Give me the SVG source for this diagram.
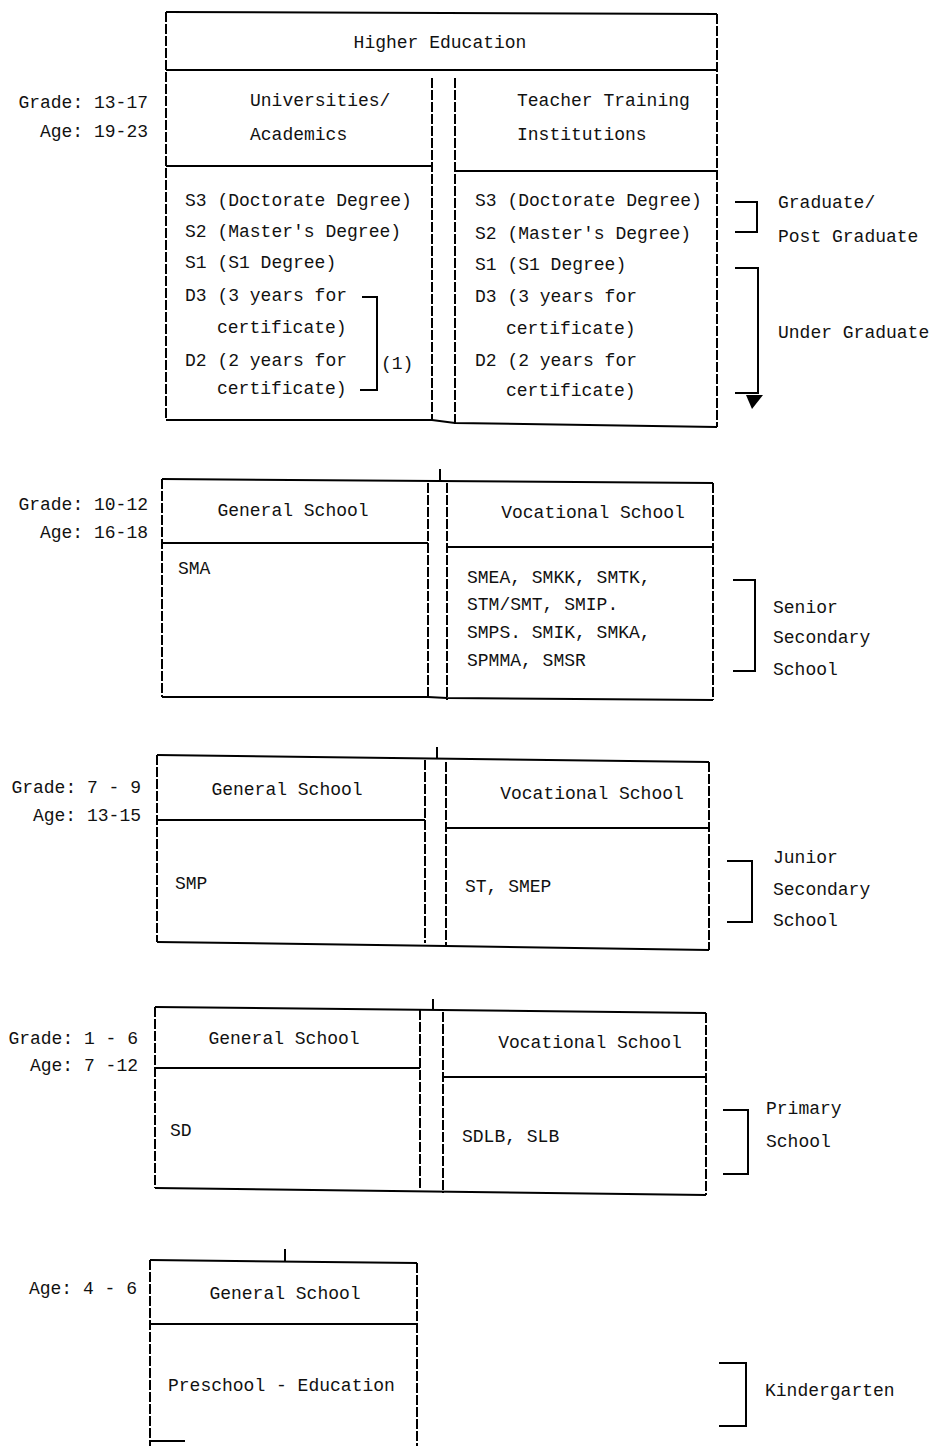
<svg xmlns="http://www.w3.org/2000/svg" width="935" height="1446" viewBox="0 0 935 1446">
<style>
.ln{stroke:#000;stroke-width:2;fill:none}
.dv{stroke:#000;stroke-width:2;fill:none;stroke-dasharray:10 2}
text{font-family:"Liberation Mono","DejaVu Sans Mono",monospace;font-size:18px;fill:#111}
.c{text-anchor:middle}
.e{text-anchor:end}
</style>
<rect width="935" height="1446" fill="#fff"/>

<g id="labels-left">
<text class="e" x="148" y="108">Grade: 13-17</text>
<text class="e" x="148" y="137">Age: 19-23</text>
<text class="e" x="148" y="510">Grade: 10-12</text>
<text class="e" x="148" y="538">Age: 16-18</text>
<text class="e" x="141" y="793">Grade: 7 - 9</text>
<text class="e" x="141" y="821">Age: 13-15</text>
<text class="e" x="138" y="1044">Grade: 1 - 6</text>
<text class="e" x="138" y="1071">Age: 7 -12</text>
<text class="e" x="137" y="1294">Age: 4 - 6</text>
</g>

<g id="higher-education">
<path class="ln" d="M166 12 L717 14 M166 70 H717"/>
<path class="dv" d="M166 12 V420 M717 14 V427"/>
<text class="c" x="440" y="48">Higher Education</text>
<g id="universities">
<path class="ln" d="M166 166 H432 M166 420 H432 L455 423 L717 427"/>
<path class="dv" d="M432 78 V420"/>
<text x="250" y="106">Universities/</text>
<text x="250" y="140">Academics</text>
<text x="185" y="206">S3 (Doctorate Degree)</text>
<text x="185" y="237">S2 (Master's Degree)</text>
<text x="185" y="268">S1 (S1 Degree)</text>
<text x="185" y="301">D3 (3 years for</text>
<text x="217" y="333">certificate)</text>
<text x="185" y="366">D2 (2 years for</text>
<text x="217" y="394">certificate)</text>
<text x="381" y="369">(1)</text>
</g>
<g id="teacher-training">
<path class="ln" d="M455 171 H717"/>
<path class="dv" d="M455 78 V425"/>
<text x="517" y="106">Teacher Training</text>
<text x="517" y="140">Institutions</text>
<text x="475" y="206">S3 (Doctorate Degree)</text>
<text x="475" y="239">S2 (Master's Degree)</text>
<text x="475" y="270">S1 (S1 Degree)</text>
<text x="475" y="302">D3 (3 years for</text>
<text x="506" y="334">certificate)</text>
<text x="475" y="366">D2 (2 years for</text>
<text x="506" y="396">certificate)</text>
</g>
</g>

<g id="senior-secondary">
<path class="ln" d="M162 479 L713 483 M162 697 H428 L447 698 L713 700"/>
<g id="senior-general">
<path class="ln" d="M162 543 H428"/>
<path class="dv" d="M162 479 V697 M428 483 V697"/>
<text class="c" x="293" y="516">General School</text>
<text x="178" y="574">SMA</text>
</g>
<g id="senior-vocational">
<path class="ln" d="M447 547 H713"/>
<path class="dv" d="M447 483 V700 M713 483 V700"/>
<text class="c" x="593" y="518">Vocational School</text>
<text x="467" y="583">SMEA, SMKK, SMTK,</text>
<text x="467" y="610">STM/SMT, SMIP.</text>
<text x="467" y="638">SMPS. SMIK, SMKA,</text>
<text x="467" y="666">SPMMA, SMSR</text>
</g>
</g>

<g id="junior-secondary">
<path class="ln" d="M157 755 L709 762 M157 942 L446 946 L709 950"/>
<g id="junior-general">
<path class="ln" d="M157 820 H425"/>
<path class="dv" d="M157 755 V942 M425 760 V943"/>
<text class="c" x="287" y="795">General School</text>
<text x="175" y="889">SMP</text>
</g>
<g id="junior-vocational">
<path class="ln" d="M446 828 H709"/>
<path class="dv" d="M446 762 V946 M709 762 V950"/>
<text class="c" x="592" y="799">Vocational School</text>
<text x="465" y="892">ST, SMEP</text>
</g>
</g>

<g id="primary">
<path class="ln" d="M155 1007 L706 1013 M155 1188 L706 1195"/>
<g id="primary-general">
<path class="ln" d="M155 1068 H420"/>
<path class="dv" d="M155 1007 V1188 M420 1010 V1190"/>
<text class="c" x="284" y="1044">General School</text>
<text x="170" y="1136">SD</text>
</g>
<g id="primary-vocational">
<path class="ln" d="M443 1077 H706"/>
<path class="dv" d="M443 1012 V1193 M706 1013 V1195"/>
<text class="c" x="590" y="1048">Vocational School</text>
<text x="462" y="1142">SDLB, SLB</text>
</g>
</g>

<g id="kindergarten">
<path class="ln" d="M150 1260 L417 1263 M150 1324 H417 M150 1441 H185"/>
<path class="dv" d="M150 1260 V1446 M417 1263 V1446"/>
<text class="c" x="285" y="1299">General School</text>
<text x="168" y="1391">Preschool - Education</text>
</g>

<g id="levels-right">
<text x="778" y="208">Graduate/</text>
<text x="778" y="242">Post Graduate</text>
<text x="778" y="338">Under Graduate</text>
<text x="773" y="613">Senior</text>
<text x="773" y="643">Secondary</text>
<text x="773" y="675">School</text>
<text x="773" y="863">Junior</text>
<text x="773" y="895">Secondary</text>
<text x="773" y="926">School</text>
<text x="766" y="1114">Primary</text>
<text x="766" y="1147">School</text>
<text x="765" y="1396">Kindergarten</text>
</g>

<g id="connectors">
<path class="ln" d="M440 469 V481 M437 747 V758 M433 999 V1010 M285 1249 V1261"/>
<path class="ln" d="M362 297 H377 V390 H360"/>
<path class="ln" d="M735 202 H757 V232 H735"/>
<path class="ln" d="M735 268 H758 V393 H735"/>
<polygon points="746,395 763,395 752,409" fill="#000"/>
<path class="ln" d="M733 580 H755 V671 H733"/>
<path class="ln" d="M727 861 H752 V922 H727"/>
<path class="ln" d="M723 1110 H748 V1174 H723"/>
<path class="ln" d="M719 1363 H746 V1426 H719"/>
</g>
</svg>
